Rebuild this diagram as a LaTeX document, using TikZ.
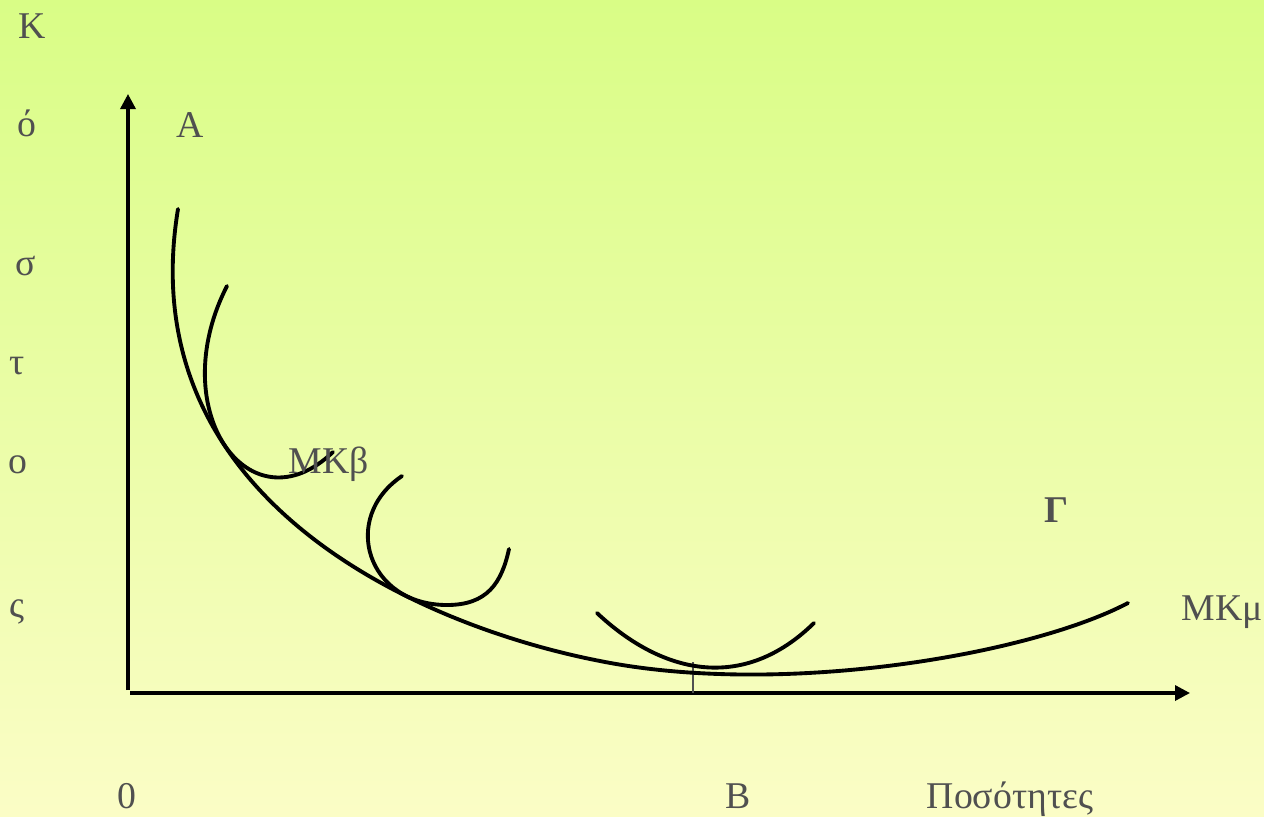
\documentclass[tikz,border=0pt]{standalone}
\usepackage{fontspec}
\setmainfont{Liberation Serif}
\usepackage{xcolor}
\usepackage{tikz}
\usetikzlibrary{arrows.meta,positioning}

\definecolor{bgtop}{RGB}{217,253,134}
\definecolor{bgbot}{RGB}{251,253,198}
\definecolor{txtgray}{RGB}{80,80,80}

\begin{document}
\begin{tikzpicture}[
  x=0.02cm,y=-0.02cm,
  lbl/.style={text=txtgray,anchor=base,inner sep=0pt,
              font=\fontsize{21.5}{26}\selectfont},
  axis/.style={line width=1.9pt,-{Triangle[length=0.3cm,width=0.3cm]}},
  cost/.style={line width=2.2pt,line cap=round}
]
  % background
  \shade[top color=bgtop,bottom color=bgbot] (0,0) rectangle (1264,816);
  \useasboundingbox (0,0) rectangle (1264,816);

  % vertical axis title
  \node[lbl] (k1) at (32,38)  {Κ};
  \node[lbl] (k2) at (27,136) {ό};
  \node[lbl] (k3) at (26,275) {σ};
  \node[lbl] (k4) at (17,374) {τ};
  \node[lbl] (k5) at (18,473) {ο};
  \node[lbl] (k6) at (17,617) {ς};

  % axes
  \coordinate (yb) at (128,690);
  \coordinate (yt) at (128,94);
  \coordinate (xb) at (130,693);
  \coordinate (xt) at (1190,693);
  \draw[axis] (yb) -- (yt);
  \draw[axis] (xb) -- (xt);

  % tick at B
  \coordinate (tb) at (693,693);
  \coordinate (tt) at (693,662);
  \draw[txtgray,line width=1.1pt] (tb) -- (tt);

  % long-run curve
  \draw[cost] (178,209) .. controls (130,500) and (420,626) .. (600,661)
                        .. controls (780,697) and (1028,655.5) .. (1128,603);

  % short-run curves
  \draw[cost] (227,286) .. controls (163,411) and (250,531.4) .. (333,452);
  \draw[cost] (402,476) .. controls (339.8,518) and (367,605) .. (447,605)
                        .. controls (487,605) and (501.6,583.3) .. (509,549);
  \draw[cost] (597,613) .. controls (665,676.7) and (745,690.5) .. (814,623);

  % labels
  \node[lbl] (ptA)  at (190,137)  {Α};
  \node[lbl] (mkb)  at (329,473)  {ΜΚβ};
  \node[lbl,font=\fontsize{21.5}{26}\selectfont\bfseries] (ptG) at (1057,522) {Γ};
  \node[lbl] (mkm)  at (1222,620) {ΜΚμ};
  \node[lbl] (zero) at (127,808)  {0};
  \node[lbl] (ptB)  at (738,808)  {Β};
  \node[lbl] (qty)  at (1010,808) {Ποσότητες};
\end{tikzpicture}
\end{document}
